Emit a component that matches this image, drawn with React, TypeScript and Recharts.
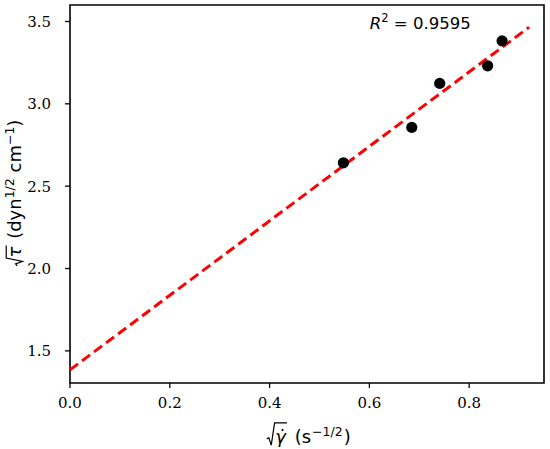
import React, { useLayoutEffect, useRef, useState } from 'react';
import { ComposedChart, Scatter, Line, XAxis, YAxis, ReferenceArea, ReferenceDot, Label } from 'recharts';

const pointsX = [0.548, 0.685, 0.741, 0.837, 0.866];
const pointsY = [2.642, 2.857, 3.124, 3.231, 3.382];
const fitX = [0, 0.92];
const fitY = [1.385, 3.465];
const xTicks = [0, 0.2, 0.4, 0.6, 0.8];
const yTicks = [1.5, 2.0, 2.5, 3.0, 3.5];
const xDomain: [number, number] = [0, 0.95];
const yDomain: [number, number] = [1.305, 3.6];
const annotX = 0.7;
const annotY = 3.5;
const r2Text = '0.9595';

const points = pointsX.map((x, i) => ({ x, y: pointsY[i] }));
const fit = fitX.map((x, i) => ({ x, y: fitY[i] }));

const SANS = 'DejaVu Sans, sans-serif';
const SERIF = 'DejaVu Serif, Liberation Serif, serif';
const TICK_FS = 15;
const LABEL_FS = 18;
const SUP_FS = 12.5;

const XTick = (props: any) => {
  const { x, y, payload } = props;
  return (
    <text className="serif-tick" x={x} y={y + 7} dy="0.71em" textAnchor="middle" fontSize={TICK_FS} fill="#000">
      {Number(payload.value).toFixed(1)}
    </text>
  );
};

const YTick = (props: any) => {
  const { x, y, payload } = props;
  return (
    <text className="serif-tick" x={x - 12} y={y} dy="0.355em" textAnchor="end" fontSize={TICK_FS} fill="#000">
      {Number(payload.value).toFixed(1)}
    </text>
  );
};

type Geo = { a: number; w: number; x2: number } | null;

// Text whose first character is a placeholder for a drawn radical sign over the second character.
const SqrtText = ({ x, y, rotate, topEm, botEm, children }: any) => {
  const ref = useRef<SVGTextElement>(null);
  const [geo, setGeo] = useState<Geo>(null);
  useLayoutEffect(() => {
    const t = ref.current;
    if (!t) return;
    try {
      const e0 = t.getExtentOfChar(0);
      const e1 = t.getExtentOfChar(1);
      const ng = { a: e0.x, w: e0.width, x2: e1.x + e1.width + 1 };
      if (!geo || Math.abs(geo.a - ng.a) > 0.1 || Math.abs(geo.x2 - ng.x2) > 0.1) setGeo(ng);
    } catch (err) {
      /* ignore */
    }
  });
  const top = y - LABEL_FS * topEm;
  const bot = y + LABEL_FS * botEm;
  let d = '';
  if (geo) {
    const { a, w, x2 } = geo;
    const mid = y - LABEL_FS * 0.3;
    d = `M ${a + w * 0.05} ${mid + 1.5} L ${a + w * 0.28} ${mid} L ${a + w * 0.55} ${bot} L ${a + w * 0.92} ${top} L ${x2} ${top}`;
  }
  return (
    <g transform={rotate ? `rotate(-90, ${x}, ${y})` : undefined}>
      <text ref={ref} x={x} y={y} textAnchor="middle" fontFamily={SANS} fontSize={LABEL_FS} fill="#000">
        {children}
      </text>
      {geo && <path d={d} fill="none" stroke="#000" strokeWidth={1.2} strokeLinejoin="miter" />}
    </g>
  );
};

const XLabelComp = (props: any) => {
  const vb = props.viewBox;
  const cx = vb.x + vb.width / 2 + 1.5;
  const cy = 443;
  return (
    <SqrtText x={cx} y={cy} topEm={1.12} botEm={0.12}>
      <tspan>{'\u2002'}</tspan>
      <tspan fontStyle="italic">γ̇</tspan>
      <tspan dx={3}> (s</tspan>
      <tspan dy={-7} dx={1} fontSize={SUP_FS}>−1/2</tspan>
      <tspan dy={7} dx={1}>)</tspan>
    </SqrtText>
  );
};

const YLabelComp = (props: any) => {
  const vb = props.viewBox;
  const cx = 21;
  const cy = vb.y + vb.height / 2 - 1;
  return (
    <SqrtText x={cx} y={cy} rotate topEm={0.82} botEm={0.08}>
      <tspan>{'\u2002'}</tspan>
      <tspan fontStyle="italic">τ</tspan>
      <tspan dx={2}> (dyn</tspan>
      <tspan dy={-7} fontSize={SUP_FS}>1/2</tspan>
      <tspan dy={7}> cm</tspan>
      <tspan dy={-7} fontSize={SUP_FS}>−1</tspan>
      <tspan dy={7}>)</tspan>
    </SqrtText>
  );
};

const R2Label = (props: any) => {
  const vb = props.viewBox;
  const cx = vb.x + (vb.width || 0) / 2;
  const cy = vb.y + (vb.height || 0) / 2;
  return (
    <text x={cx + 1} y={cy + 8} textAnchor="middle" fontFamily={SANS} fontSize={16.5} fill="#000">
      <tspan fontStyle="italic">R</tspan>
      <tspan dy={-7} fontSize={11.5}>2</tspan>
      <tspan dy={7}> = {r2Text}</tspan>
    </text>
  );
};

export default function App() {
  return (
    <div style={{ width: 550, height: 449, background: '#fff', overflow: 'visible' }}>
      <style>{'html,body{margin:0;padding:0;background:#fff}.serif-tick{font-family:"DejaVu Serif","Liberation Serif",serif}'}</style>
      <ComposedChart width={550} height={449} margin={{ top: 5, right: 6, left: 0, bottom: 0 }} style={{ overflow: 'visible' }}>
        <XAxis
          type="number"
          dataKey="x"
          domain={xDomain}
          ticks={xTicks}
          allowDataOverflow
          tick={<XTick />}
          tickSize={5}
          tickLine={{ stroke: '#000', strokeWidth: 1.3 }}
          axisLine={false}
          height={66}
        >
          <Label content={(p: any) => <XLabelComp {...p} />} />
        </XAxis>
        <YAxis
          type="number"
          dataKey="y"
          domain={yDomain}
          ticks={yTicks}
          allowDataOverflow
          tick={<YTick />}
          tickSize={5}
          tickLine={{ stroke: '#000', strokeWidth: 1.3 }}
          axisLine={false}
          width={70}
        >
          <Label content={(p: any) => <YLabelComp {...p} />} />
        </YAxis>
        <ReferenceArea x1={xDomain[0]} x2={xDomain[1]} y1={yDomain[0]} y2={yDomain[1]} fill="none" stroke="#000" strokeWidth={1.6} fillOpacity={0} />
        <Line
          data={fit}
          dataKey="y"
          stroke="#ff0000"
          strokeWidth={3}
          strokeDasharray="10 5"
          dot={false}
          activeDot={false}
          isAnimationActive={false}
        />
        <Scatter data={points} dataKey="y" fill="#000" isAnimationActive={false} shape={(p: any) => <circle cx={p.cx} cy={p.cy} r={5.6} fill="#000" />} />
        <ReferenceDot x={annotX} y={annotY} r={0} fill="none" stroke="none" label={<R2Label />} />
      </ComposedChart>
    </div>
  );
}
